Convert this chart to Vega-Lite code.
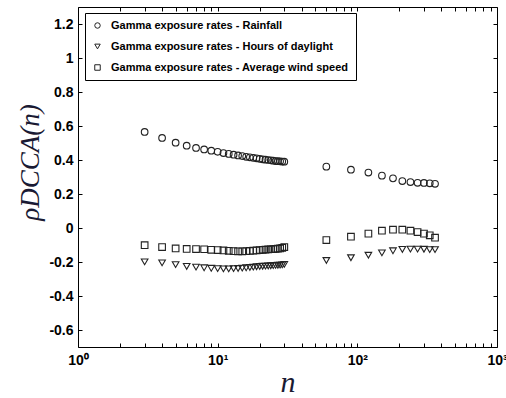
{
  "$schema": "https://vega.github.io/schema/vega-lite/v6.json",
  "width": 419,
  "height": 340,
  "autosize": {"type": "none"},
  "padding": {"left": 78, "top": 7, "right": 9, "bottom": 51},
  "background": "white",
  "config": {
    "view": {"stroke": "black", "strokeWidth": 1},
    "axis": {"grid": false, "domain": false, "tickColor": "black", "tickSize": -4, "labelColor": "black", "labelFont": "Liberation Sans", "labelFontSize": 14, "labelFontWeight": "bold", "labelOverlap": false, "labelFlush": false, "labelBound": false}
  },
  "data": {"values": [
    {"n": 3, "Rainfall": 0.565, "Hours of daylight": -0.199, "Average wind speed": -0.101},
    {"n": 4, "Rainfall": 0.530, "Hours of daylight": -0.205, "Average wind speed": -0.112},
    {"n": 5, "Rainfall": 0.502, "Hours of daylight": -0.215, "Average wind speed": -0.120},
    {"n": 6, "Rainfall": 0.484, "Hours of daylight": -0.226, "Average wind speed": -0.123},
    {"n": 7, "Rainfall": 0.471, "Hours of daylight": -0.230, "Average wind speed": -0.124},
    {"n": 8, "Rainfall": 0.462, "Hours of daylight": -0.234, "Average wind speed": -0.125},
    {"n": 9, "Rainfall": 0.455, "Hours of daylight": -0.237, "Average wind speed": -0.128},
    {"n": 10, "Rainfall": 0.448, "Hours of daylight": -0.239, "Average wind speed": -0.130},
    {"n": 11, "Rainfall": 0.441, "Hours of daylight": -0.240, "Average wind speed": -0.132},
    {"n": 12, "Rainfall": 0.436, "Hours of daylight": -0.240, "Average wind speed": -0.134},
    {"n": 13, "Rainfall": 0.431, "Hours of daylight": -0.239, "Average wind speed": -0.136},
    {"n": 14, "Rainfall": 0.427, "Hours of daylight": -0.238, "Average wind speed": -0.137},
    {"n": 15, "Rainfall": 0.423, "Hours of daylight": -0.236, "Average wind speed": -0.137},
    {"n": 16, "Rainfall": 0.419, "Hours of daylight": -0.234, "Average wind speed": -0.136},
    {"n": 17, "Rainfall": 0.416, "Hours of daylight": -0.232, "Average wind speed": -0.135},
    {"n": 18, "Rainfall": 0.413, "Hours of daylight": -0.230, "Average wind speed": -0.133},
    {"n": 19, "Rainfall": 0.410, "Hours of daylight": -0.228, "Average wind speed": -0.132},
    {"n": 20, "Rainfall": 0.407, "Hours of daylight": -0.226, "Average wind speed": -0.130},
    {"n": 21, "Rainfall": 0.404, "Hours of daylight": -0.225, "Average wind speed": -0.128},
    {"n": 22, "Rainfall": 0.402, "Hours of daylight": -0.224, "Average wind speed": -0.127},
    {"n": 23, "Rainfall": 0.400, "Hours of daylight": -0.223, "Average wind speed": -0.126},
    {"n": 24, "Rainfall": 0.398, "Hours of daylight": -0.222, "Average wind speed": -0.125},
    {"n": 25, "Rainfall": 0.396, "Hours of daylight": -0.221, "Average wind speed": -0.124},
    {"n": 26, "Rainfall": 0.394, "Hours of daylight": -0.220, "Average wind speed": -0.123},
    {"n": 27, "Rainfall": 0.393, "Hours of daylight": -0.219, "Average wind speed": -0.122},
    {"n": 28, "Rainfall": 0.392, "Hours of daylight": -0.218, "Average wind speed": -0.120},
    {"n": 29, "Rainfall": 0.391, "Hours of daylight": -0.217, "Average wind speed": -0.117},
    {"n": 30, "Rainfall": 0.390, "Hours of daylight": -0.214, "Average wind speed": -0.112},
    {"n": 60, "Rainfall": 0.361, "Hours of daylight": -0.191, "Average wind speed": -0.071},
    {"n": 90, "Rainfall": 0.343, "Hours of daylight": -0.175, "Average wind speed": -0.051},
    {"n": 120, "Rainfall": 0.326, "Hours of daylight": -0.160, "Average wind speed": -0.033},
    {"n": 150, "Rainfall": 0.308, "Hours of daylight": -0.146, "Average wind speed": -0.016},
    {"n": 180, "Rainfall": 0.292, "Hours of daylight": -0.134, "Average wind speed": -0.010},
    {"n": 210, "Rainfall": 0.276, "Hours of daylight": -0.126, "Average wind speed": -0.010},
    {"n": 240, "Rainfall": 0.270, "Hours of daylight": -0.124, "Average wind speed": -0.016},
    {"n": 270, "Rainfall": 0.266, "Hours of daylight": -0.124, "Average wind speed": -0.024},
    {"n": 300, "Rainfall": 0.265, "Hours of daylight": -0.125, "Average wind speed": -0.033},
    {"n": 330, "Rainfall": 0.263, "Hours of daylight": -0.127, "Average wind speed": -0.043},
    {"n": 360, "Rainfall": 0.260, "Hours of daylight": -0.127, "Average wind speed": -0.057}
  ]},
  "transform": [{"fold": ["Rainfall", "Hours of daylight", "Average wind speed"], "as": ["s", "r"]}],
  "layer": [
    {
      "mark": {"type": "point", "filled": false, "strokeWidth": 1.1, "opacity": 1, "size": 44},
      "encoding": {
        "x": {"field": "n", "type": "quantitative",
          "scale": {"type": "log", "domain": [1, 1000], "nice": false},
          "axis": {"orient": "bottom", "values": [1,2,3,4,5,6,7,8,9,10,20,30,40,50,60,70,80,90,100,200,300,400,500,600,700,800,900,1000],
            "labelExpr": "datum.value == 1 ? '10⁰' : datum.value == 10 ? '10¹' : datum.value == 100 ? '10²' : datum.value == 1000 ? '10³' : ''",
            "labelPadding": 10, "labelFontWeight": "bold", "labelFontSize": 14,
            "title": "n", "titleFont": "Liberation Serif", "titleFontStyle": "italic", "titleFontWeight": "normal", "titleFontSize": 30, "titleColor": "#1a1a33", "titlePadding": 0}},
        "y": {"field": "r", "type": "quantitative",
          "scale": {"domain": [-0.7, 1.3], "nice": false, "zero": false},
          "axis": {"orient": "left", "values": [-0.6,-0.4,-0.2,0,0.2,0.4,0.6,0.8,1,1.2],
            "labelExpr": "replace(format(datum.value, '~g'), '\u2212', '-')",
            "labelPadding": 9, "labelFontWeight": "bold", "labelFontSize": 14,
            "title": "ρDCCA(n)", "titleFont": "Liberation Serif", "titleFontStyle": "italic", "titleFontWeight": "normal", "titleFontSize": 27, "titleColor": "#1a1a33", "titlePadding": 4, "titleY": 155}},
        "shape": {"field": "s", "type": "nominal",
          "scale": {"domain": ["Rainfall", "Hours of daylight", "Average wind speed"], "range": ["circle", "triangle-down", "square"]},
          "legend": {"orient": "none", "legendX": 7, "legendY": 6, "title": null, "strokeColor": "black", "fillColor": "white", "padding": 7,
            "labelFont": "Liberation Sans", "labelFontSize": 11, "labelFontWeight": "bold", "labelColor": "black", "labelOffset": 8, "rowPadding": 9, "labelLimit": 500,
            "symbolSize": 30, "symbolStrokeColor": "#222", "symbolStrokeWidth": 1,
            "labelExpr": "'Gamma exposure rates - ' + datum.label"}},
        "color": {"value": "#222"}
      }
    },
    {
      "mark": {"type": "point", "opacity": 0},
      "encoding": {
        "x": {"field": "n", "type": "quantitative",
          "axis": {"orient": "top", "values": [1,2,3,4,5,6,7,8,9,10,20,30,40,50,60,70,80,90,100,200,300,400,500,600,700,800,900,1000], "labels": false, "title": null}},
        "y": {"field": "r", "type": "quantitative",
          "axis": {"orient": "right", "values": [-0.6,-0.4,-0.2,0,0.2,0.4,0.6,0.8,1,1.2], "labels": false, "title": null}}
      }
    }
  ],
  "resolve": {"axis": {"x": "independent", "y": "independent"}}
}
